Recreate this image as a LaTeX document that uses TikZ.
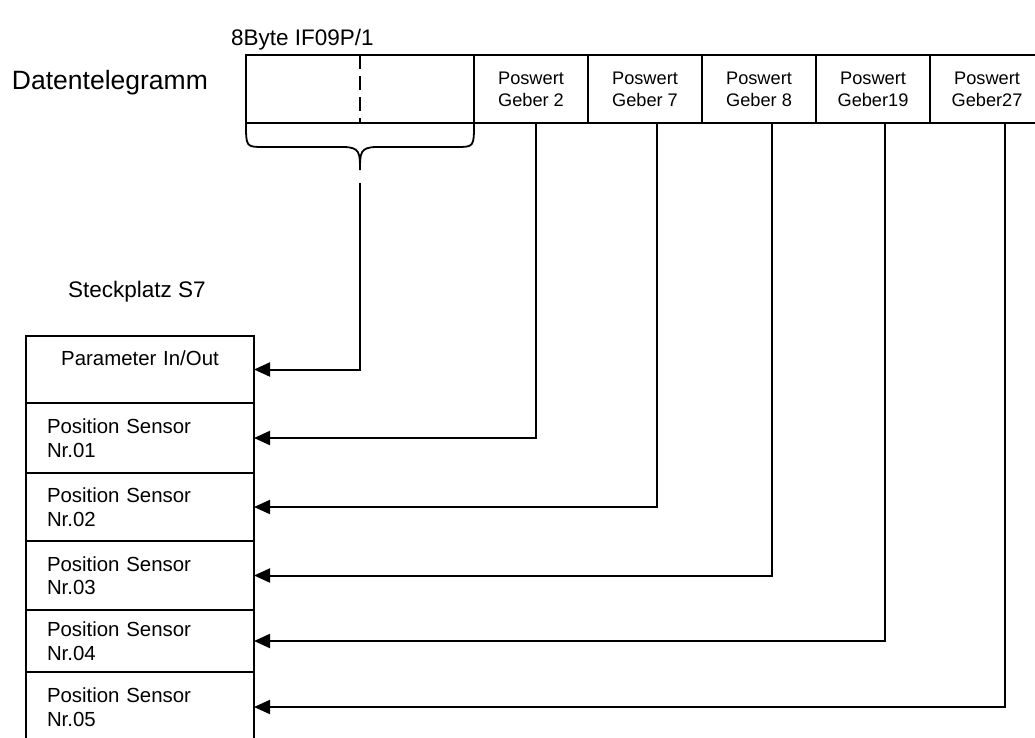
\documentclass[tikz,border=0pt]{standalone}
\usepackage{fontspec}
\setmainfont{Liberation Sans}
\usetikzlibrary{arrows.meta,positioning,calc}

\begin{document}
\begin{tikzpicture}[x=1pt,y=-1pt,line width=2pt,
   cell/.style={draw,outer sep=0pt,inner sep=2pt,minimum width=114pt,minimum height=68pt,
                align=center,font=\fontsize{18.2}{22}\selectfont},
   slot/.style={draw,outer sep=0pt,inner xsep=21pt,inner ysep=2pt,text width=186pt,
                align=left,font=\fontsize{20.4}{23.5}\selectfont},
   ttl/.style={anchor=west,inner sep=0pt,font=\fontsize{22.5}{26}\selectfont},
   ar/.style={-{Triangle[length=16pt,width=14pt]}}]
  \clip (0,0) rectangle (1035,737);
  % titles
  \node[ttl] (byte) at (230,40) {8Byte IF09P/1};
  \node[ttl,font=\fontsize{26.5}{30}\selectfont] (dt) at (11,83) {Datentelegramm};
  \node[ttl] (sp) at (67,292) {Steckplatz S7};
  % Datentelegramm
  \node[cell,minimum width=228pt,anchor=north west] (d0) at (246,55) {};
  \node[cell,right=0pt of d0] (g2) {Poswert\\Geber 2};
  \node[cell,right=0pt of g2] (g7) {Poswert\\Geber 7};
  \node[cell,right=0pt of g7] (g8) {Poswert\\Geber 8};
  \node[cell,right=0pt of g8] (g19) {Poswert\\Geber19};
  \node[cell,right=0pt of g19] (g27) {Poswert\\Geber27};
  \draw[dash pattern=on 14pt off 7pt,line width=1.5pt] (d0.north) -- (d0.south);
  % brace
  \draw[line width=1.8pt] (d0.south west) .. controls (246,147) .. (264,147) -- (343,147)
      .. controls (360,147) and (360,153) .. (360,170)
      .. controls (360,153) and (360,147) .. (377,147) -- (456,147)
      .. controls (474,147) .. (d0.south east);
  % Steckplatz S7
  \node[slot,align=center,minimum height=67pt,anchor=north west] (par) at (26,336)
    {Parameter In/Out\\\mbox{}};
  \node[slot,minimum height=70pt,below=0pt of par] (s1) {Position Sensor\\Nr.01};
  \node[slot,minimum height=68pt,below=0pt of s1] (s2) {Position Sensor\\Nr.02};
  \node[slot,minimum height=69pt,below=0pt of s2] (s3) {Position Sensor\\Nr.03};
  \node[slot,minimum height=62pt,below=0pt of s3] (s4) {Position Sensor\\Nr.04};
  \node[slot,minimum height=70pt,below=0pt of s4] (s5) {Position Sensor\\Nr.05};
  % connections
  \coordinate (bt) at (360,183);
  \draw[ar] (bt) |- (par.east);
  \draw[ar] ($(g2.south)+(5,0)$) |- (s1.east);
  \draw[ar] ($(g7.south)+(12,0)$) |- (s2.east);
  \draw[ar] ($(g8.south)+(13,0)$) |- (s3.east);
  \draw[ar] ($(g19.south)+(12,0)$) |- (s4.east);
  \draw[ar] ($(g27.south)+(18,0)$) |- (s5.east);
\end{tikzpicture}
\end{document}
